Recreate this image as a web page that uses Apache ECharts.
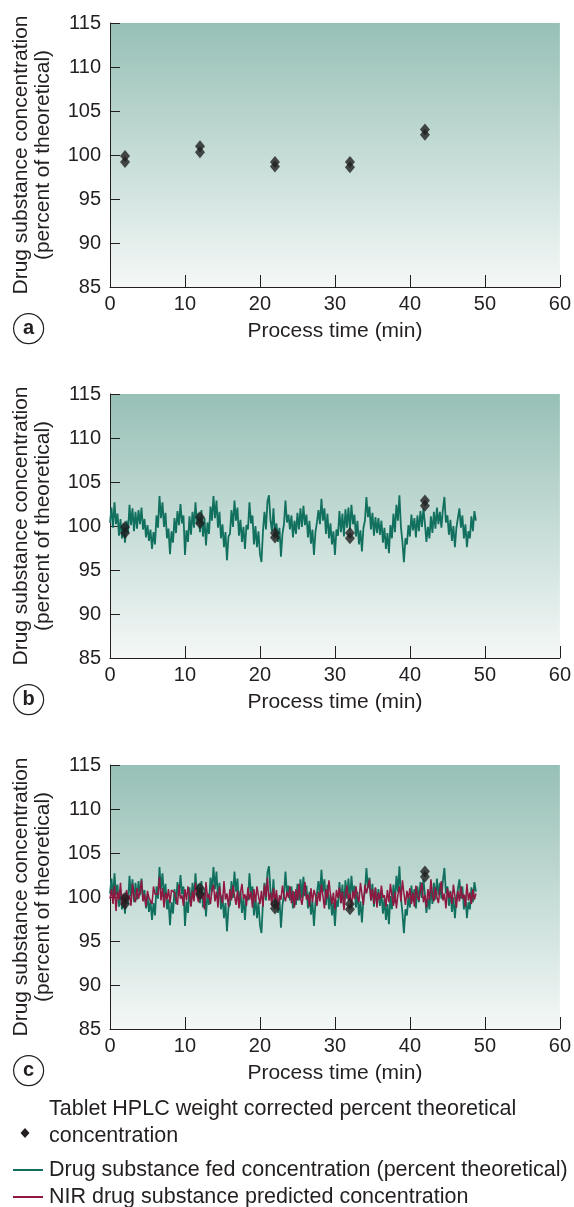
<!DOCTYPE html>
<html>
<head>
<meta charset="utf-8">
<script src="https://cdn.jsdelivr.net/npm/echarts@6/dist/echarts.min.js"></script>
<style>
html,body{margin:0;padding:0;background:#fff;}
#chart{width:574px;height:1207px;}
</style>
</head>
<body>
<div id="chart"></div>
<script>
// ---- data ----
const xTicks = [0, 10, 20, 30, 40, 50, 60];
const yTicks = [85, 90, 95, 100, 105, 110, 115];
const panelLabels = ['a', 'b', 'c'];

// Tablet HPLC results (pairs of tablets at each sampling time)
const hplcTimes  = [2, 2, 12, 12, 22, 22, 32, 32, 42, 42];
const hplcValues = [99.9, 99.2, 101.0, 100.3, 99.2, 98.7, 99.2, 98.6, 102.9, 102.3];

// Drug substance fed concentration, sampled every 0.2 min from 0 to 48.8 min
const feedStart = 0, feedStep = 0.2;
const feedValues = [
  100.4, 102.1, 99.8, 102.7, 100.2, 101.4, 98.9, 100.8, 98.6, 100.3,
  98.1, 100.6, 99.2, 102.4, 100.1, 102.0, 99.4, 101.6, 99.7, 101.8,
  100.2, 102.1, 99.6, 100.8, 98.7, 100.1, 98.3, 99.6, 97.4, 99.3,
  97.9, 101.2, 99.8, 103.4, 100.9, 102.7, 99.9, 101.5, 98.6, 99.7,
  96.8, 99.4, 98.1, 100.9, 99.2, 101.7, 100.1, 102.5, 100.3, 101.2,
  96.7, 99.5, 98.2, 101.1, 99.0, 101.6, 99.8, 102.7, 100.2, 101.5,
  99.3, 101.8, 98.8, 100.9, 97.8, 100.4, 99.1, 102.2, 100.6, 103.4,
  100.9, 102.9, 99.8, 101.6, 98.6, 100.2, 97.6, 99.3, 96.1, 98.8,
  99.1, 101.8, 99.9, 102.9, 100.6, 102.1, 98.9, 100.7, 98.2, 99.9,
  97.4, 100.1, 99.6, 102.7, 100.3, 101.2, 97.9, 100.0, 97.6, 99.4,
  96.8, 95.9, 99.4, 101.6, 99.6, 102.8, 103.5, 100.7, 99.4, 102.0,
  98.9, 100.3, 98.2, 99.8, 96.5, 99.1, 100.2, 102.9, 100.4, 101.3,
  99.6, 101.2, 98.7, 100.6, 99.1, 101.5, 99.6, 102.0, 99.9, 102.3,
  100.1, 101.3, 98.7, 100.6, 98.0, 99.6, 96.7, 99.3, 100.4, 101.8,
  100.2, 103.1, 100.6, 102.0, 99.1, 101.4, 98.6, 100.3, 97.9, 99.4,
  96.7, 99.6, 98.9, 101.7, 99.3, 101.4, 98.8, 101.9, 99.8, 102.1,
  99.6, 102.4, 100.2, 101.3, 98.8, 100.6, 97.9, 99.5, 97.1, 99.8,
  100.6, 103.3, 101.0, 102.2, 99.6, 101.5, 98.9, 101.0, 99.2, 100.9,
  99.0, 100.6, 98.1, 99.8, 97.4, 99.2, 96.9, 100.1, 98.6, 101.4,
  99.3, 102.4, 100.6, 103.5, 99.9, 98.2, 95.9, 98.6, 97.9, 100.1,
  98.8, 101.3, 99.5, 100.9, 98.7, 101.2, 99.4, 101.7, 99.9, 102.0,
  100.3, 98.2, 99.9, 98.6, 101.1, 99.2, 101.6, 99.7, 102.1, 100.2,
  101.6, 99.8, 101.9, 103.3, 100.4, 101.2, 99.0, 100.7, 98.3, 100.0,
  97.6, 99.8, 99.6, 102.0, 99.8, 101.2, 98.6, 100.2, 97.6, 99.4,
  98.6, 101.1, 99.4, 101.7, 100.6
];

// NIR predicted concentration, sampled every 0.2 min from 0 to 48.8 min
const nirStart = 0, nirStep = 0.2;
const nirValues = [
  99.8, 100.9, 99.2, 101.3, 98.4, 100.6, 99.7, 101.6, 99.1, 100.4,
  98.7, 100.8, 99.6, 100.2, 99.0, 101.5, 100.1, 99.4, 101.0, 99.8,
  100.6, 101.9, 99.5, 100.3, 98.9, 100.7, 99.9, 100.1, 99.2, 101.2,
  100.3, 100.4, 100.3, 102.3, 99.6, 101.0, 98.8, 100.5, 99.7, 100.9,
  99.3, 100.8, 100.6, 100.5, 100.6, 99.1, 101.4, 99.8, 100.2, 99.0,
  100.9, 99.6, 101.2, 100.1, 98.9, 100.7, 99.5, 101.6, 100.2, 99.4,
  101.0, 99.8, 100.5, 98.6, 101.7, 99.9, 100.3, 99.2, 100.8, 101.4,
  99.5, 100.6, 98.8, 101.2, 100.0, 99.3, 101.8, 99.7, 100.4, 98.9,
  100.9, 99.6, 101.3, 100.2, 99.1, 100.7, 98.7, 100.5, 101.5, 99.8,
  100.3, 99.0, 101.1, 99.7, 100.6, 98.8, 100.9, 99.4, 101.2, 100.1,
  99.2, 100.7, 98.9, 101.4, 100.0, 102.2, 99.6, 100.5, 99.0, 101.0,
  99.4, 100.8, 98.6, 100.2, 99.7, 101.3, 100.1, 99.5, 100.6, 99.9,
  101.2, 99.3, 100.7, 98.8, 100.9, 99.6, 101.5, 100.0, 99.1, 100.4,
  101.7, 99.7, 100.3, 98.9, 101.0, 99.4, 100.8, 100.2, 99.0, 100.6,
  99.5, 101.4, 100.1, 98.7, 100.9, 99.8, 101.9, 100.3, 99.2, 100.5,
  98.6, 100.8, 99.9, 101.1, 99.3, 100.6, 98.5, 100.2, 101.3, 99.6,
  100.4, 98.9, 100.7, 99.8, 101.2, 100.0, 99.4, 101.6, 100.3, 99.1,
  101.4, 100.4, 100.5, 102.0, 99.6, 100.9, 99.2, 101.1, 98.8, 100.5,
  99.7, 101.3, 99.9, 100.2, 98.9, 100.8, 99.4, 101.5, 100.1, 99.0,
  100.6, 98.7, 100.3, 101.2, 99.5, 101.9, 100.4, 99.1, 100.7, 99.8,
  101.0, 99.2, 100.5, 98.9, 101.3, 100.0, 99.6, 100.8, 101.6, 99.4,
  100.2, 98.8, 100.9, 99.7, 102.0, 100.3, 99.5, 101.1, 100.0, 99.3,
  100.8, 101.8, 99.6, 100.4, 98.7, 101.0, 99.9, 100.6, 99.2, 101.4,
  100.1, 98.8, 100.7, 99.5, 101.2, 99.8, 100.3, 98.9, 101.5, 99.6,
  100.5, 99.2, 100.9, 99.7, 100.4
];

const legendTexts = [
  'Tablet HPLC weight corrected percent theoretical\nconcentration',
  'Drug substance fed concentration (percent theoretical)',
  'NIR drug substance predicted concentration'
];
const xTitle = 'Process time (min)';
const yTitle = 'Drug substance concentration\n(percent of theoretical)';

// ---- build ----
const TEAL = '#12705f';
const RED = '#8f1740';
const INK = '#231f20';
const FONT = 'Liberation Sans, Arial, Helvetica, sans-serif';

const feedData = feedValues.map((v, i) => [+(feedStart + i * feedStep).toFixed(2), v]);
const nirData = nirValues.map((v, i) => [+(nirStart + i * nirStep).toFixed(2), v]);
const hplcData = hplcTimes.map((t, i) => [t, hplcValues[i]]);

const tops = [23, 394, 765];
const H = 264;

const grids = [], xAxes = [], yAxes = [], series = [], graphics = [];
tops.forEach((top, p) => {
  grids.push({
    left: 110, top: top, width: 450, height: H,
    show: true, borderWidth: 0,
    backgroundColor: {
      type: 'linear', x: 0, y: 0, x2: 0, y2: 1,
      colorStops: [{offset: 0, color: '#97c0b6'}, {offset: 1, color: '#f4f8f7'}]
    }
  });
  xAxes.push({
    type: 'value', gridIndex: p, min: xTicks[0], max: xTicks[xTicks.length - 1],
    interval: xTicks[1] - xTicks[0],
    name: xTitle, nameLocation: 'middle', nameGap: 34,
    nameTextStyle: {fontFamily: FONT, fontSize: 21, color: INK},
    axisLine: {show: true, onZero: false, lineStyle: {color: INK, width: 1}},
    axisTick: {show: true, inside: true, length: 12, lineStyle: {color: INK, width: 1}},
    axisLabel: {fontFamily: FONT, fontSize: 20, color: INK, margin: 7},
    splitLine: {show: false}
  });
  yAxes.push({
    type: 'value', gridIndex: p, min: yTicks[0], max: yTicks[yTicks.length - 1],
    interval: yTicks[1] - yTicks[0],
    name: yTitle, nameLocation: 'middle', nameRotate: 90, nameGap: 56,
    nameTextStyle: {fontFamily: FONT, fontSize: 21, color: INK, lineHeight: 22},
    axisLine: {show: true, lineStyle: {color: INK, width: 1}},
    axisTick: {show: true, inside: true, length: 10, lineStyle: {color: INK, width: 1}},
    axisLabel: {fontFamily: FONT, fontSize: 20, color: INK, margin: 9},
    splitLine: {show: false}
  });
  if (p >= 1) {
    series.push({
      type: 'line', xAxisIndex: p, yAxisIndex: p, data: feedData,
      showSymbol: false, symbol: 'none', lineStyle: {color: TEAL, width: 1.8},
      z: 2, animation: false
    });
  }
  if (p === 2) {
    series.push({
      type: 'line', xAxisIndex: p, yAxisIndex: p, data: nirData,
      showSymbol: false, symbol: 'none', lineStyle: {color: RED, width: 1.5},
      z: 3, animation: false
    });
  }
  series.push({
    type: 'scatter', xAxisIndex: p, yAxisIndex: p, data: hplcData,
    symbol: 'diamond', symbolSize: [10, 12],
    itemStyle: {color: '#1f1f1f'}, z: 5, animation: false
  });
  // circled panel letter
  graphics.push({
    type: 'group', left: 13, top: top + 290,
    children: [
      {type: 'circle', shape: {cx: 15, cy: 15, r: 15},
       style: {fill: '#fff', stroke: INK, lineWidth: 1.2}},
      {type: 'text', x: 15, y: 15,
       style: {text: panelLabels[p], font: 'bold 20px ' + FONT, fill: INK, align: 'center', verticalAlign: 'middle'}}
    ]
  });
});

// legend
graphics.push(
  {type: 'polygon', shape: {points: [[25, 1128], [29.5, 1133], [25, 1138], [20.5, 1133]]}, style: {fill: INK}},
  {type: 'text', x: 49, y: 1096, style: {text: legendTexts[0], font: '21.5px ' + FONT, fill: INK, lineHeight: 27}},
  {type: 'line', shape: {x1: 13, y1: 1170, x2: 43, y2: 1170}, style: {stroke: TEAL, lineWidth: 2}},
  {type: 'text', x: 49, y: 1170, style: {text: legendTexts[1], font: '21.5px ' + FONT, fill: INK, verticalAlign: 'middle'}},
  {type: 'line', shape: {x1: 13, y1: 1197, x2: 43, y2: 1197}, style: {stroke: RED, lineWidth: 2}},
  {type: 'text', x: 49, y: 1197, style: {text: legendTexts[2], font: '21.5px ' + FONT, fill: INK, verticalAlign: 'middle'}}
);

const chart = echarts.init(document.getElementById('chart'), null, {renderer: 'canvas'});
chart.setOption({
  animation: false,
  backgroundColor: '#ffffff',
  grid: grids, xAxis: xAxes, yAxis: yAxes, series: series, graphic: graphics
});
</script>
</body>
</html>
